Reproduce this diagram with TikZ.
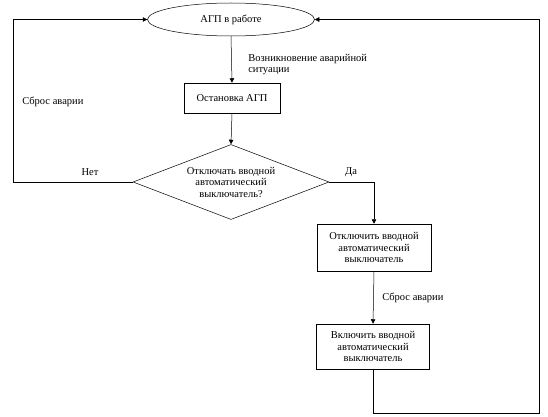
\documentclass[tikz,border=0pt]{standalone}
\usepackage{fontspec}
\setmainfont{Liberation Serif}
\usetikzlibrary{arrows.meta,shapes.geometric,positioning}

\begin{document}
\begin{tikzpicture}[x=1pt,y=-1pt,line width=0.5pt,
  font=\fontsize{10.5}{11.5}\selectfont,
  arr/.style={-{Triangle[length=4.5pt,width=4.5pt]}},
  box/.style={draw,align=center,inner sep=1pt},
  lbl/.style={inner sep=0pt}]
  \useasboundingbox (0,0) rectangle (548,417);
  % blocks
  \node[draw,ellipse,minimum width=167pt,minimum height=33pt,inner sep=0pt] (run) at (231,19.5) {АГП в работе};
  \node[box,minimum width=96pt,minimum height=30pt] (stop) at (232,98) {Остановка АГП};
  \node[draw,diamond,aspect=2.61,minimum width=196pt,minimum height=75pt,inner sep=0pt,align=center] (ask) at (231,182)
    {Отключать вводной\\автоматический\\выключатель?};
  \node[box,minimum width=114pt,minimum height=47pt] (off) at (374,247.5)
    {Отключить вводной\\автоматический\\выключатель};
  \node[box,minimum width=113pt,minimum height=45pt] (on) at (373,346.5)
    {Включить вводной\\автоматический\\выключатель};
  % corners of the loops
  \coordinate (lft) at (13,0);
  \coordinate (rgt) at (539,413);
  % connectors
  \draw[arr] (run.south) -- (stop.north);
  \draw[arr] (stop.south) -- (ask.north);
  \draw[arr] (ask.east) -| (off.north);
  \draw[arr] (off.south) -- (on.north);
  \draw[arr] (ask.west) -- (ask.west -| lft) |- (run.west);
  \draw[arr] (on.south) |- (rgt) |- (run.east);
  % labels
  \node[lbl,anchor=north west,align=left] (why) at (248,54) {Возникновение аварийной\\ситуации};
  \node[lbl,anchor=west] (rst1) at (22,102) {Сброс аварии};
  \node[lbl] (no) at (90,172) {Нет};
  \node[lbl] (yes) at (351,172) {Да};
  \node[lbl,anchor=west] (rst2) at (382,298) {Сброс аварии};
\end{tikzpicture}
\end{document}
